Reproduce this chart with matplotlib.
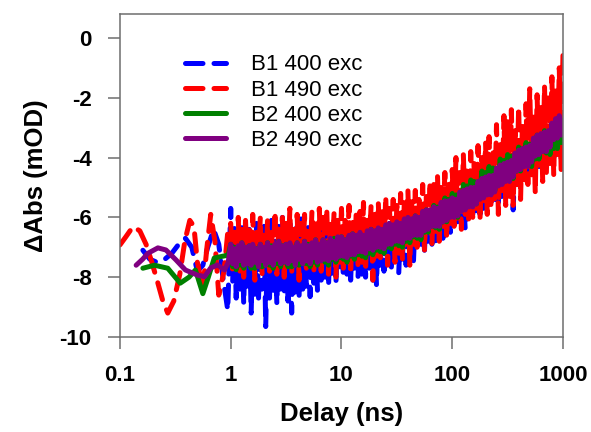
import matplotlib
matplotlib.use("Agg")
import matplotlib.pyplot as plt
from matplotlib.ticker import FixedLocator, NullLocator, FixedFormatter

plt.rcParams['font.family'] = ['Liberation Sans', 'DejaVu Sans']
plt.rcParams['axes.unicode_minus'] = False

# ---- data ----
# shared delay grid for the noisy part (ns)
delay_ns = [1.00, 1.04, 1.08, 1.12, 1.17, 1.21, 1.26, 1.31, 1.36, 1.41,
            1.47, 1.53, 1.58, 1.65, 1.71, 1.78, 1.85, 1.92, 2.00, 2.07,
            2.15, 2.24, 2.33, 2.42, 2.51, 2.61, 2.71, 2.82, 2.93, 3.04,
            3.16, 3.29, 3.42, 3.55, 3.69, 3.83, 3.98, 4.14, 4.30, 4.47,
            4.64, 4.82, 5.01, 5.21, 5.41, 5.62, 5.84, 6.07, 6.31, 6.56,
            6.81, 7.08, 7.36, 7.64, 7.94, 8.25, 8.58, 8.91, 9.26, 9.62,
            10.0, 10.4, 10.8, 11.2, 11.7, 12.1, 12.6, 13.1, 13.6, 14.1,
            14.7, 15.3, 15.8, 16.5, 17.1, 17.8, 18.5, 19.2, 20.0, 20.7,
            21.5, 22.4, 23.3, 24.2, 25.1, 26.1, 27.1, 28.2, 29.3, 30.4,
            31.6, 32.9, 34.2, 35.5, 36.9, 38.3, 39.8, 41.4, 43.0, 44.7,
            46.4, 48.2, 50.1, 52.1, 54.1, 56.2, 58.4, 60.7, 63.1, 65.6,
            68.1, 70.8, 73.6, 76.4, 79.4, 82.5, 85.8, 89.1, 92.6, 96.2,
            100, 104, 108, 112, 117, 121, 126, 131, 136, 141,
            147, 153, 158, 165, 171, 178, 185, 192, 200, 207,
            215, 224, 233, 242, 251, 261, 271, 282, 293, 304,
            316, 329, 342, 355, 369, 383, 398, 414, 430, 447,
            464, 482, 501, 521, 541, 562, 584, 607, 631, 656,
            681, 708, 736, 764, 794, 825, 858, 891, 926, 962,
            1000]

# early (sub-ns) parts
b1_400_early_t = [0.161, 0.186, 0.215, 0.254, 0.294, 0.347, 0.39, 0.445, 0.50,
                  0.56, 0.62, 0.70, 0.78, 0.85, 0.94]
b1_400_early_y = [-7.1, -7.4, -7.5, -7.4, -7.2, -6.85, -6.7, -7.0, -7.8,
                  -7.6, -7.0, -6.4, -6.9, -8.0, -9.1]

b1_490_early_t = [0.10, 0.113, 0.131, 0.151, 0.172, 0.194, 0.22, 0.244, 0.27,
                  0.306, 0.347, 0.385, 0.427, 0.465, 0.50, 0.56, 0.61, 0.66,
                  0.72, 0.78, 0.87, 0.94]
b1_490_early_y = [-6.92, -6.65, -6.31, -6.45, -6.9, -7.5, -8.2, -8.8, -9.2,
                  -8.8, -7.9, -6.8, -6.1, -6.3, -7.5, -8.4, -7.0, -5.9,
                  -6.8, -8.6, -7.8, -6.5]

b2_400_early_t = [0.161, 0.205, 0.27, 0.35, 0.42, 0.48, 0.56, 0.63, 0.71, 0.85, 0.95]
b2_400_early_y = [-7.7, -7.6, -7.7, -8.2, -8.0, -7.76, -8.55, -7.98, -7.36, -7.3, -7.26]

b2_490_early_t = [0.14, 0.16, 0.179, 0.22, 0.26, 0.32, 0.39, 0.50, 0.58, 0.66,
                  0.76, 0.88, 0.95]
b2_490_early_y = [-7.6, -7.4, -7.2, -7.02, -7.09, -7.42, -7.76, -7.93, -7.98,
                  -7.69, -7.59, -7.76, -7.5]

# noisy parts on delay_ns
b1_400_y = [-5.7, -8.2, -6.3, -8.7, -6.6, -8.4, -6.2, -8.9, -6.5, -8.3,
            -6.4, -9.2, -6.7, -8.6, -6.2, -8.8, -6.5, -8.4, -6.3, -9.65,
            -6.6, -8.7, -6.1, -8.5, -6.8, -8.9, -6.3, -8.4, -6.0, -8.6,
            -6.5, -8.8, -6.2, -9.2, -6.6, -8.5, -6.3, -8.7, -5.9, -8.4,
            -6.4, -8.3, -6.2, -8.65, -6.5, -8.2, -6.3, -8.45, -6.6, -8.1,
            -6.4, -8.0, -6.6, -8.3, -6.3, -7.9, -6.5, -8.2, -6.6, -7.8,
            -6.5, -8.0, -6.3, -7.9, -6.6, -8.1, -6.4, -7.7, -6.6, -8.0,
            -6.3, -7.9, -6.5, -8.0, -6.4, -7.7, -6.2, -8.1, -6.5, -8.25,
            -6.3, -7.6, -6.1, -7.8, -6.4, -7.5, -6.2, -7.7, -6.3, -7.4,
            -6.0, -7.85, -6.2, -7.4, -5.9, -7.6, -6.1, -7.3, -6.0, -7.45,
            -5.9, -7.0, -5.8, -6.9, -6.0, -7.1, -5.7, -6.8, -5.9, -6.9,
            -5.6, -6.8, -5.5, -6.6, -5.7, -6.7, -5.4, -6.5, -5.6, -6.5,
            -5.3, -6.3, -5.4, -6.2, -5.2, -6.1, -5.3, -6.4, -5.1, -6.0,
            -4.9, -5.9, -5.0, -5.8, -4.8, -5.9, -4.9, -5.7, -4.7, -5.6,
            -4.5, -5.5, -4.6, -5.4, -4.4, -5.5, -4.5, -5.3, -4.3, -5.2,
            -4.0, -5.0, -4.1, -5.75, -3.9, -4.9, -4.0, -4.8, -3.8, -4.7,
            -3.5, -4.5, -3.6, -4.4, -3.4, -4.5, -3.5, -4.3, -3.3, -4.2,
            -3.0, -4.0, -3.1, -3.9, -2.9, -4.0, -3.0, -3.8, -2.8, -3.75,
            -3.5]

b1_490_y = [-6.2, -7.9, -6.5, -7.6, -6.0, -7.8, -6.4, -8.0, -6.1, -7.5,
            -6.3, -7.7, -5.9, -8.1, -6.5, -7.4, -6.0, -7.9, -6.6, -7.6,
            -6.1, -7.8, -6.4, -7.5, -5.8, -7.9, -6.3, -7.3, -6.0, -8.0,
            -6.2, -7.6, -5.7, -7.9, -6.4, -7.4, -5.9, -8.1, -6.2, -7.5,
            -5.9, -7.7, -6.3, -7.4, -5.8, -7.9, -6.1, -7.5, -5.7, -7.8,
            -6.0, -7.6, -5.7, -7.9, -6.2, -7.3, -5.8, -8.0, -6.1, -7.5,
            -5.7, -7.7, -6.1, -7.4, -5.6, -7.9, -6.0, -7.3, -5.8, -7.6,
            -5.8, -7.5, -5.5, -7.8, -6.0, -7.2, -5.6, -8.1, -5.9, -7.3,
            -5.5, -7.4, -5.8, -7.1, -5.3, -7.6, -5.7, -7.0, -5.4, -7.5,
            -5.6, -7.2, -5.2, -7.4, -5.5, -6.9, -5.1, -7.6, -5.4, -6.9,
            -5.1, -7.0, -5.4, -6.7, -4.9, -7.1, -5.3, -6.6, -4.8, -6.9,
            -4.9, -6.6, -4.6, -6.8, -5.0, -6.3, -4.5, -6.7, -4.8, -6.2,
            -4.4, -6.3, -4.0, -6.1, -4.5, -6.4, -3.9, -5.9, -4.3, -6.2,
            -3.8, -6.0, -4.2, -5.7, -3.6, -6.1, -4.0, -5.6, -3.5, -5.9,
            -3.3, -5.7, -3.7, -5.4, -2.9, -5.9, -3.5, -5.2, -2.6, -5.6,
            -2.8, -5.3, -2.4, -5.6, -3.1, -4.9, -2.3, -5.4, -2.9, -4.8,
            -2.2, -4.9, -1.7, -4.6, -2.5, -5.2, -1.9, -4.4, -2.3, -4.8,
            -1.6, -4.5, -1.9, -4.2, -1.3, -4.6, -1.7, -3.9, -1.0, -4.4,
            -0.5]

b2_400_y = [-6.90, -7.65, -7.00, -7.75, -7.10, -7.60, -6.85, -7.70, -7.00, -7.55,
            -6.95, -7.70, -6.95, -7.70, -7.05, -7.65, -6.90, -7.65, -7.05, -7.60,
            -6.85, -7.60, -6.95, -7.70, -7.05, -7.55, -6.80, -7.65, -6.95, -7.50,
            -6.90, -7.65, -6.90, -7.65, -7.00, -7.60, -6.85, -7.60, -7.00, -7.55,
            -6.80, -7.55, -6.90, -7.65, -7.00, -7.50, -6.75, -7.60, -6.90, -7.45,
            -6.75, -7.50, -6.85, -7.60, -6.95, -7.40, -6.70, -7.50, -6.80, -7.35,
            -6.65, -7.40, -6.75, -7.50, -6.80, -7.30, -6.55, -7.40, -6.65, -7.25,
            -6.55, -7.30, -6.65, -7.35, -6.70, -7.20, -6.40, -7.25, -6.55, -7.10,
            -6.40, -7.15, -6.50, -7.20, -6.55, -7.00, -6.25, -7.05, -6.35, -6.90,
            -6.20, -6.95, -6.30, -7.00, -6.35, -6.80, -6.05, -6.85, -6.10, -6.65,
            -5.95, -6.70, -6.05, -6.75, -6.05, -6.50, -5.75, -6.50, -5.80, -6.30,
            -5.60, -6.35, -5.65, -6.40, -5.70, -6.15, -5.35, -6.15, -5.40, -5.90,
            -5.20, -5.95, -5.25, -6.00, -5.25, -5.70, -4.90, -5.70, -4.95, -5.45,
            -4.75, -5.50, -4.80, -5.55, -4.80, -5.25, -4.45, -5.25, -4.50, -5.00,
            -4.30, -5.05, -4.35, -5.10, -4.40, -4.85, -4.05, -4.85, -4.10, -4.60,
            -3.90, -4.65, -3.95, -4.70, -4.00, -4.45, -3.65, -4.45, -3.70, -4.20,
            -3.50, -4.25, -3.55, -4.30, -3.60, -4.05, -3.25, -4.05, -3.30, -3.80,
            -3.10, -3.85, -3.15, -3.90, -3.25, -3.70, -2.95, -3.70, -3.00, -3.50,
            -3.30]

b2_490_y = [-6.90, -7.55, -7.05, -7.65, -6.95, -7.45, -6.85, -7.60, -7.00, -7.55,
            -6.95, -7.60, -6.90, -7.50, -7.05, -7.65, -6.90, -7.45, -7.00, -7.60,
            -6.85, -7.50, -7.00, -7.60, -6.90, -7.40, -6.80, -7.55, -6.95, -7.50,
            -6.90, -7.55, -6.85, -7.45, -7.00, -7.60, -6.85, -7.40, -6.95, -7.55,
            -6.80, -7.45, -6.95, -7.55, -6.85, -7.35, -6.75, -7.50, -6.90, -7.45,
            -6.75, -7.40, -6.85, -7.45, -6.70, -7.35, -6.80, -7.40, -6.65, -7.30,
            -6.65, -7.30, -6.75, -7.35, -6.60, -7.25, -6.55, -7.25, -6.60, -7.15,
            -6.50, -7.15, -6.60, -7.20, -6.45, -7.05, -6.40, -7.10, -6.45, -7.00,
            -6.35, -7.00, -6.40, -7.05, -6.25, -6.90, -6.20, -6.90, -6.25, -6.80,
            -6.15, -6.80, -6.20, -6.85, -6.05, -6.70, -6.00, -6.70, -6.05, -6.60,
            -5.95, -6.60, -6.00, -6.60, -5.80, -6.45, -5.75, -6.40, -5.75, -6.30,
            -5.65, -6.30, -5.70, -6.30, -5.50, -6.15, -5.45, -6.10, -5.45, -6.00,
            -5.35, -6.00, -5.40, -5.95, -5.15, -5.80, -5.10, -5.75, -5.05, -5.65,
            -5.00, -5.65, -5.00, -5.55, -4.80, -5.40, -4.70, -5.35, -4.65, -5.25,
            -4.60, -5.25, -4.60, -5.15, -4.35, -4.95, -4.25, -4.90, -4.20, -4.80,
            -4.15, -4.80, -4.10, -4.65, -3.85, -4.45, -3.75, -4.40, -3.70, -4.30,
            -3.65, -4.30, -3.60, -4.15, -3.35, -3.95, -3.25, -3.90, -3.20, -3.80,
            -3.15, -3.80, -3.10, -3.65, -2.85, -3.40, -2.70, -3.35, -2.60, -3.25,
            -2.75]

labels = ["B1 400 exc", "B1 490 exc", "B2 400 exc", "B2 490 exc"]
colors = ["#0000FF", "#FF0000", "#008000", "#800080"]
x_ticks = [0.1, 1, 10, 100, 1000]
x_tick_labels = ["0.1", "1", "10", "100", "1000"]
y_ticks = [-10, -8, -6, -4, -2, 0]

series = [
    (b1_400_early_t + delay_ns, b1_400_early_y + b1_400_y),
    (b1_490_early_t + delay_ns, b1_490_early_y + b1_490_y),
    (b2_400_early_t + delay_ns, b2_400_early_y + b2_400_y),
    (b2_490_early_t + delay_ns, b2_490_early_y + b2_490_y),
]
dashed = [True, True, False, False]

# ---- figure ----
fig = plt.figure(figsize=(5.91, 4.32), dpi=100)
ax = fig.add_axes([0.2030, 0.2199, 0.7496, 0.7477])

for (t, y), lab, col, d in zip(series, labels, colors, dashed):
    ln, = ax.plot(t, y, color=col, lw=3.6, label=lab,
                  solid_capstyle='round', dash_capstyle='round',
                  solid_joinstyle='round', dash_joinstyle='round')
    if d:
        ln.set_dashes([3.5, 2.2])

ax.set_xscale('log')
ax.set_xlim(0.1, 1000)
ax.set_ylim(-10, 0.8)
ax.xaxis.set_major_locator(FixedLocator(x_ticks))
ax.xaxis.set_major_formatter(FixedFormatter(x_tick_labels))
ax.xaxis.set_minor_locator(NullLocator())
ax.set_yticks(y_ticks)
ax.set_yticklabels([str(v) for v in y_ticks])

for s in ax.spines.values():
    s.set_color('#6e6e6e')
    s.set_linewidth(1.1)
ax.tick_params(axis='both', which='major', direction='out', length=8.5,
               width=1.1, color='#6e6e6e', pad=12, labelsize=16)
for lbl in ax.get_xticklabels() + ax.get_yticklabels():
    lbl.set_fontweight('bold')

ax.set_xlabel("Delay (ns)", fontsize=18.5, fontweight='bold', labelpad=11)
ax.set_ylabel("ΔAbs (mOD)", fontsize=18.5, fontweight='bold', labelpad=8)

ax.legend(loc='upper left', bbox_to_anchor=(0.147, 0.875), frameon=False,
          fontsize=16, handlelength=1.85, handletextpad=1.1, labelspacing=0.19,
          borderpad=0, borderaxespad=0)

fig.savefig("out.png", dpi=100)
